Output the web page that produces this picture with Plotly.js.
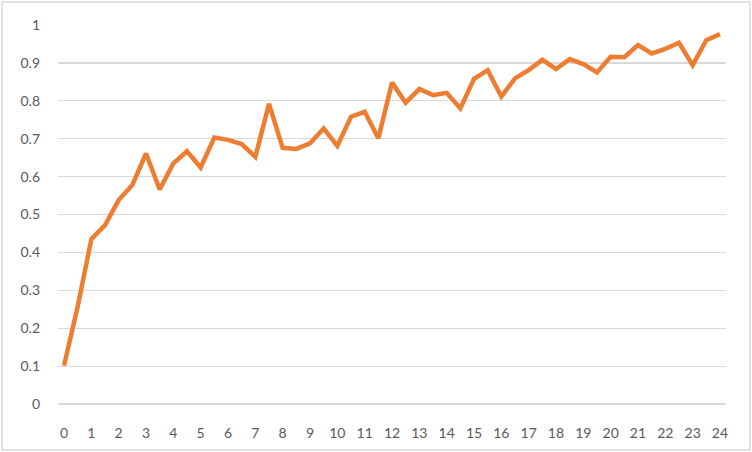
<!DOCTYPE html>
<html>
<head>
<meta charset="utf-8">
<script src="https://cdn.plot.ly/plotly-3.0.1.min.js"></script>
<style>
  body { margin: 0; background: #fff; }
  #chart { width: 752px; height: 452px; }
</style>
</head>
<body>
<div id="chart"></div>
<script>
// x positions (half steps) and the values
var xVals = [0, 0.5, 1, 1.5, 2, 2.5, 3, 3.5, 4, 4.5, 5, 5.5, 6, 6.5, 7, 7.5,
             8, 8.5, 9, 9.5, 10, 10.5, 11, 11.5, 12, 12.5, 13, 13.5, 14, 14.5, 15, 15.5,
             16, 16.5, 17, 17.5, 18, 18.5, 19, 19.5, 20, 20.5, 21, 21.5, 22, 22.5, 23, 23.5, 24]
var yVals = [0.101, 0.257, 0.435, 0.472, 0.538, 0.578, 0.661, 0.566, 0.635, 0.667, 0.624, 0.703, 0.697, 0.686, 0.652, 0.792,
             0.676, 0.673, 0.688, 0.727, 0.681, 0.758, 0.771, 0.701, 0.848, 0.795, 0.831, 0.815, 0.821, 0.780, 0.858, 0.881,
             0.811, 0.859, 0.881, 0.908, 0.884, 0.910, 0.897, 0.875, 0.916, 0.915, 0.947, 0.925, 0.937, 0.953, 0.894, 0.960, 0.976]

var xTicks = [0, 1, 2, 3, 4, 5, 6, 7, 8, 9, 10, 11, 12, 13, 14, 15, 16, 17, 18, 19, 20, 21, 22, 23, 24]
var yTicks = [0, 0.1, 0.2, 0.3, 0.4, 0.5, 0.6, 0.7, 0.8, 0.9, 1]
var yTickText = ['0', '0.1', '0.2', '0.3', '0.4', '0.5', '0.6', '0.7', '0.8', '0.9', '1']

var trace = {
    x: xVals, y: yVals,
    type: 'scatter', mode: 'lines',
    line: {color: '#ED7D31', width: 4.5, shape: 'linear'},
    hoverinfo: 'none'
};

var layout = {
    width: 752, height: 452,
    margin: {l: 58, r: 26, t: 25, b: 48},
    paper_bgcolor: '#ffffff',
    plot_bgcolor: '#ffffff',
    font: {family: 'Lato, "Open Sans", sans-serif', size: 14, color: '#595959'},
    showlegend: false,
    xaxis: {
        range: [-0.22, 24.22],
        tickvals: xTicks,
        showgrid: false, zeroline: false, showline: false,
        ticks: '', ticklabelstandoff: 19
    },
    yaxis: {
        range: [0, 1],
        tickvals: yTicks, ticktext: yTickText,
        showgrid: true, gridcolor: '#d9d9d9', gridwidth: 1.2,
        zeroline: true, zerolinecolor: '#d9d9d9', zerolinewidth: 1.2,
        showline: false, ticks: '', ticklabelstandoff: 17
    },
    shapes: [{
        type: 'rect', xref: 'paper', yref: 'paper',
        x0: -0.0838, x1: 1.0359, y0: -0.1214, y1: 1.0607,
        line: {color: '#d9d9d9', width: 1.5}
    }]
};

Plotly.newPlot('chart', [trace], layout, {staticPlot: true});
</script>
</body>
</html>
